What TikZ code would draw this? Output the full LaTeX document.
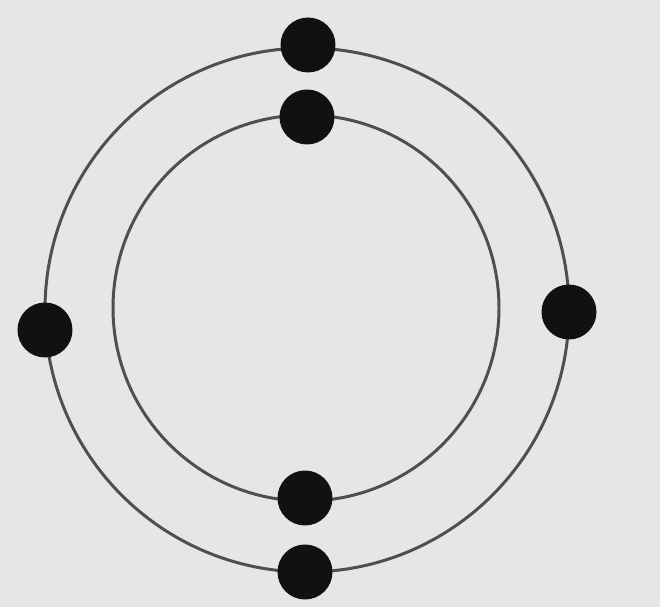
\documentclass[tikz,border=0pt]{standalone}
\usepackage{xcolor}
\usepackage{tikz}
\usetikzlibrary{positioning,calc}
\definecolor{rgBack}{HTML}{E6E6E6}
\definecolor{rgLine}{HTML}{4F4F4F}
\definecolor{rgDot}{HTML}{111111}
\tikzset{
  rg-ring/.style={draw=rgLine, line width=1.7pt},
  rg-dot/.style={circle, fill=rgDot, inner sep=0pt, minimum size=1.1cm}
}

\begin{document}
\begin{tikzpicture}[x=0.02cm, y=-0.02cm]
\fill[rgBack] (0,0) rectangle (660,607);
\useasboundingbox (0,0) rectangle (660,607);

\coordinate (cOut) at (307,310);
\coordinate (cIn) at (306,308);
\draw[rg-ring] (cOut) circle[radius=262];
\draw[rg-ring] (cIn) circle[radius=193];

\node[rg-dot] (outTop) at (308,45) {};
\node[rg-dot] (inTop) at (307,117) {};
\node[rg-dot] (outLeft) at (45,330) {};
\node[rg-dot] (outRight) at (569,312) {};
\node[rg-dot] (inBottom) at (305,498) {};
\node[rg-dot] (outBottom) at (305,572) {};
\end{tikzpicture}
\end{document}
